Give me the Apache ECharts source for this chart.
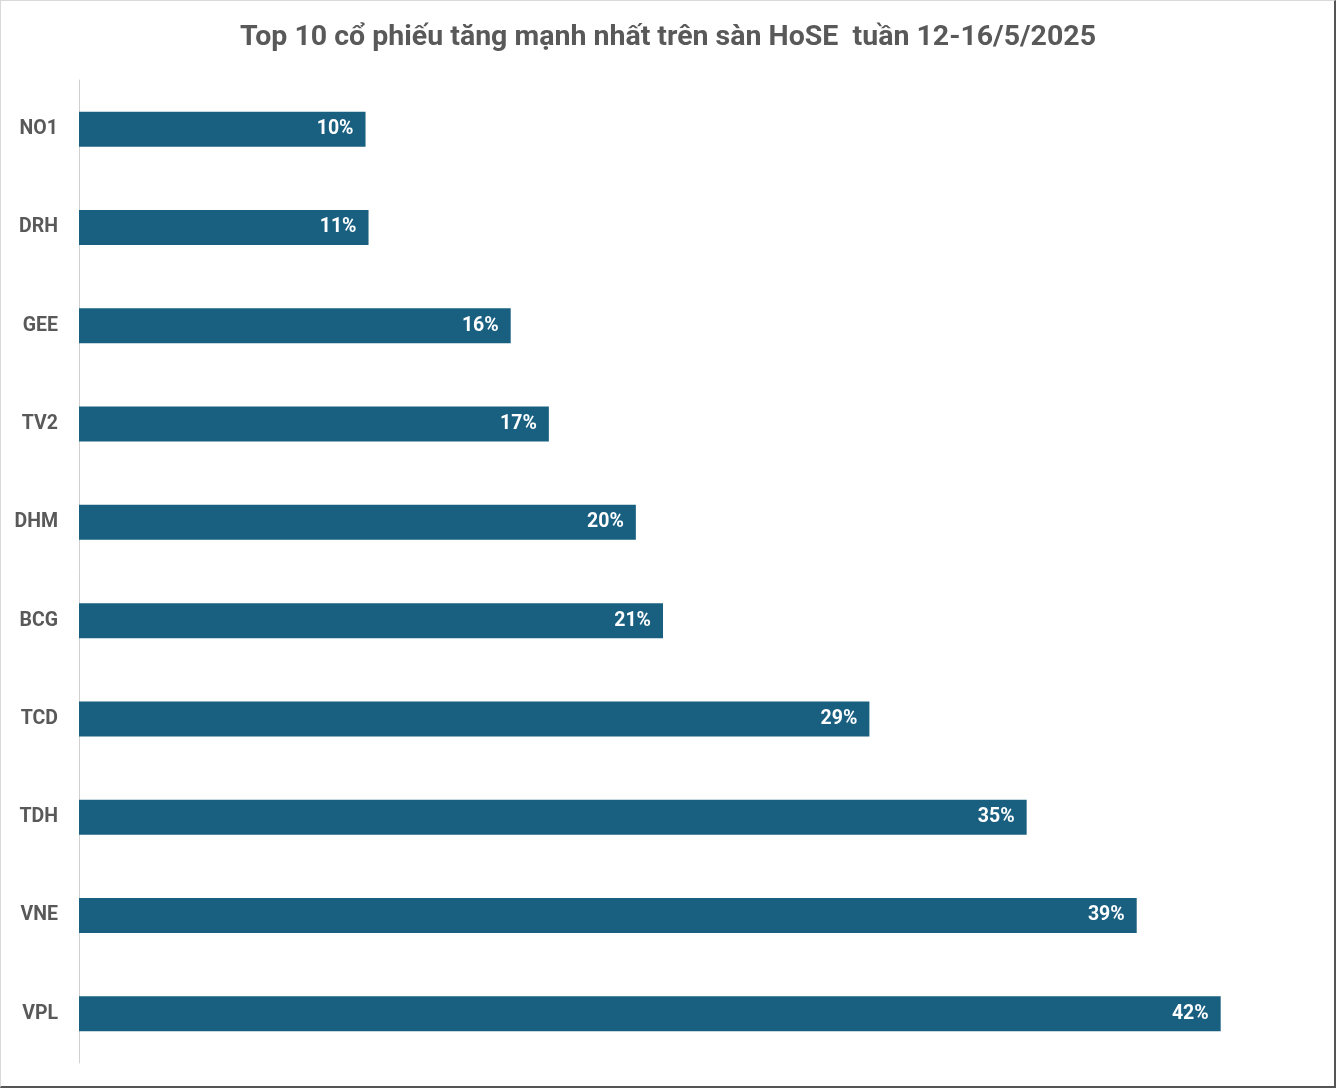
<!DOCTYPE html>
<html>
<head>
<meta charset="utf-8">
<script src="https://cdn.jsdelivr.net/npm/echarts@6/dist/echarts.min.js"></script>
<style>
html,body{margin:0;padding:0;background:#fff;}
#wrap{position:relative;width:1336px;height:1088px;}
#chart{width:1336px;height:1088px;}
#frame{position:absolute;left:0;top:0;width:1336px;height:1088px;box-sizing:border-box;border:1px solid #d9d9d9;border-right:2px solid #555;border-bottom:2px solid #555;pointer-events:none;}
</style>
</head>
<body>
<div id="wrap"><div id="chart"></div><div id="frame"></div></div>
<script>
const titleText = 'Top 10 cổ phiếu tăng mạnh nhất trên sàn HoSE  tuần 12-16/5/2025';
const categories = ['NO1', 'DRH', 'GEE', 'TV2', 'DHM', 'BCG', 'TCD', 'TDH', 'VNE', 'VPL'];
const gains = [10.44, 10.55, 15.73, 17.12, 20.29, 21.28, 28.8, 34.53, 38.54, 41.6];

const chart = echarts.init(document.getElementById('chart'));
chart.setOption({
  animation: false,
  title: {
    text: titleText,
    left: 'center',
    top: 18,
    textStyle: { fontFamily: 'Roboto', fontWeight: 'bold', fontSize: 28.5, color: '#595959' }
  },
  grid: { left: 79, right: 22, top: 80, bottom: 25, containLabel: false },
  xAxis: {
    type: 'value', min: 0, max: 45, show: false
  },
  yAxis: {
    type: 'category',
    data: categories,
    inverse: true,
    axisLine: { show: true, lineStyle: { color: '#d0d0d0', width: 1 } },
    axisTick: { show: false },
    axisLabel: { fontFamily: 'Roboto', fontWeight: 'bold', fontSize: 19.5, color: '#595959', margin: 21 }
  },
  series: [{
    type: 'bar',
    data: gains,
    barWidth: 35,
    itemStyle: { color: '#185F80' },
    label: {
      show: true,
      position: 'insideRight',
      distance: 12,
      color: '#ffffff',
      fontFamily: 'Roboto',
      fontWeight: 'bold',
      fontSize: 19.5,
      formatter: p => Math.round(p.value) + '%'
    }
  }]
});
</script>
</body>
</html>
